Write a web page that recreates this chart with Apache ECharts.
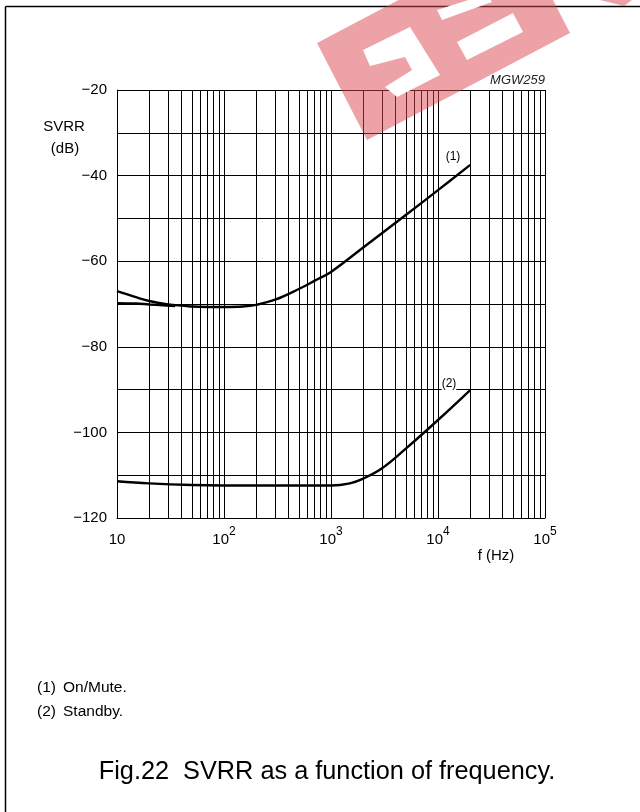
<!DOCTYPE html>
<html>
<head>
<meta charset="utf-8">
<script src="https://cdn.jsdelivr.net/npm/echarts@6/dist/echarts.min.js"></script>
<style>
html,body{margin:0;padding:0;background:#fff;}
#c{width:640px;height:812px;}
</style>
</head>
<body>
<div id="c"></div>
<script>
// Curve (1) On/Mute
var freq1 = [10, 15, 20, 30, 50, 70, 100, 150, 200, 300, 500, 700, 1000, 2000, 5000, 10000, 20000];
var svrr1 = [-67, -68.4, -69.3, -70.1, -70.6, -70.7, -70.7, -70.6, -70.2, -69.0, -66.5, -64.6, -62.5, -56.8, -49.2, -43.4, -37.5];
// Second branch of curve (1) at low frequency
var freq1b = [10, 15, 20, 27, 35];
var svrr1b = [-69.8, -69.9, -70.1, -70.3, -70.5];
// Curve (2) Standby
var freq2 = [10, 20, 50, 100, 300, 1000, 1500, 2000, 3000, 5000, 10000, 20000];
var svrr2 = [-111.4, -111.9, -112.3, -112.4, -112.4, -112.4, -111.9, -110.8, -108.4, -103.8, -97.1, -90.1];
// Axis ticks
var yMin = -120, yMax = -20, yStep = 10;
var xMin = 10, xMax = 100000;
var xTickLabels = {10: '{b|10}', 100: '{b|10}{s|2}', 1000: '{b|10}{s|3}', 10000: '{b|10}{s|4}', 100000: '{b|10}{s|5}'};
var minorGrid = [20,30,40,50,60,70,80,90,200,300,400,500,600,700,800,900,2000,3000,4000,5000,6000,7000,8000,9000,20000,30000,40000,50000,60000,70000,80000,90000];

function pairs(xs, ys){ return xs.map(function(x,i){ return [x, ys[i]]; }); }

var FONT = '"Liberation Sans", Arial, sans-serif';
var chart = echarts.init(document.getElementById('c'), null, {renderer:'canvas'});

var lineStyle = {color:'#000', width:2.4};
var option = {
  animation:false,
  backgroundColor:'#fff',
  grid:{left:117, right:95, top:90, bottom:294, containLabel:false},
  xAxis:{
    type:'log', logBase:10, min:xMin, max:xMax,
    axisLine:{show:true, lineStyle:{color:'#000', width:1}},
    axisTick:{show:false},
    splitLine:{show:true, lineStyle:{color:'#000', width:1}},
    axisLabel:{
      margin:8, color:'#000', fontFamily:FONT,
      formatter:function(v){ var k = Math.round(v); return xTickLabels[k] || ''; },
      rich:{
        b:{fontSize:15, fontFamily:FONT, color:'#000', lineHeight:21, verticalAlign:'bottom'},
        s:{fontSize:12, fontFamily:FONT, color:'#000', lineHeight:13, verticalAlign:'top'}
      }
    }
  },
  yAxis:{
    type:'value', min:yMin, max:yMax, interval:yStep,
    axisLine:{show:true, lineStyle:{color:'#000', width:1}},
    axisTick:{show:false},
    splitLine:{show:true, lineStyle:{color:'#000', width:1}},
    axisLabel:{
      margin:10, color:'#000', fontSize:15, fontFamily:FONT,
      formatter:function(v){ return (v % 20 === 0) ? '\u2212' + Math.abs(v) : ''; }
    }
  },
  series:[
    {type:'line', data:pairs(freq1, svrr1), smooth:0.4, showSymbol:false, lineStyle:lineStyle, z:5,
     markLine:{silent:true, symbol:['none','none'], label:{show:false},
       lineStyle:{color:'#000', width:1, type:'solid'},
       data:minorGrid.map(function(f){ return {xAxis:f}; })}},
    {type:'line', data:pairs(freq1b, svrr1b), smooth:0.4, showSymbol:false, lineStyle:lineStyle, z:5},
    {type:'line', data:pairs(freq2, svrr2), smooth:0.4, showSymbol:false, lineStyle:lineStyle, z:5}
  ],
  graphic:[
    // page frame (left & top)
    {type:'line', shape:{x1:5.5, y1:6.5, x2:640, y2:6.5}, style:{stroke:'#000', lineWidth:1.5}, z:1},
    {type:'line', shape:{x1:5.5, y1:6.5, x2:5.5, y2:812}, style:{stroke:'#000', lineWidth:1.5}, z:1},
    // texts
    {type:'text', x:545, y:80, style:{text:'MGW259', font:'italic 13px '+FONT, fill:'#222', align:'right', verticalAlign:'middle'}, z:10},
    {type:'text', x:64, y:127, style:{text:'SVRR', font:'15px '+FONT, fill:'#000', align:'center', verticalAlign:'middle'}},
    {type:'text', x:65, y:149, style:{text:'(dB)', font:'15px '+FONT, fill:'#000', align:'center', verticalAlign:'middle'}},
    {type:'text', x:496, y:556, style:{text:'f (Hz)', font:'15px '+FONT, fill:'#000', align:'center', verticalAlign:'middle'}},
    {type:'text', x:453, y:157, style:{text:'(1)', font:'12px '+FONT, fill:'#000', align:'center', verticalAlign:'middle', backgroundColor:'#fff'}, z:10},
    {type:'text', x:449, y:384, style:{text:'(2)', font:'12px '+FONT, fill:'#000', align:'center', verticalAlign:'middle', backgroundColor:'#fff'}, z:10},
    {type:'text', x:37, y:688, style:{text:'(1)', font:'15.5px '+FONT, fill:'#000', verticalAlign:'middle'}},
    {type:'text', x:63, y:688, style:{text:'On/Mute.', font:'15.5px '+FONT, fill:'#000', verticalAlign:'middle'}},
    {type:'text', x:37, y:712, style:{text:'(2)', font:'15.5px '+FONT, fill:'#000', verticalAlign:'middle'}},
    {type:'text', x:63, y:712, style:{text:'Standby.', font:'15.5px '+FONT, fill:'#000', verticalAlign:'middle'}},
    {type:'text', x:327, y:772, style:{text:'Fig.22  SVRR as a function of frequency.', font:'25.3px '+FONT, fill:'#000', align:'center', verticalAlign:'middle'}},
    // watermark
    {type:'polygon', z:20, shape:{points:[[317,43],[367,140],[570,33],[520,-64]]}, style:{fill:'rgba(220,70,80,0.5)'}},
    {type:'polygon', z:20, shape:{points:[[600,0],[640,0],[640,-6],[624,6]]}, style:{fill:'rgba(220,70,80,0.5)'}},
    {type:'polygon', z:21, shape:{points:[[457,42],[513,13],[523,32],[467,60]]}, style:{fill:'#fff'}},
    {type:'polygon', z:21, shape:{points:[[437,10],[487,-6],[492,2],[442,20]]}, style:{fill:'#fff'}},
    {type:'polygon', z:21, shape:{points:[[363,50],[410,27],[440,75],[397,97],[385,87],[412,70],[405,57],[370,66]]}, style:{fill:'#fff'}}
  ]
};
chart.setOption(option);
</script>
</body>
</html>
